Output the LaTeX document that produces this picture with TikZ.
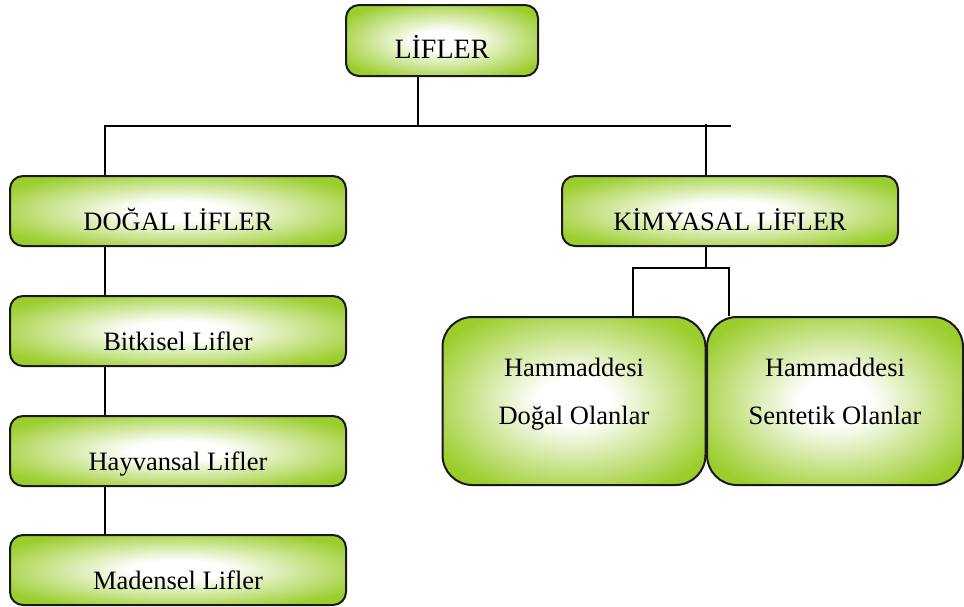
\documentclass[tikz,border=0pt]{standalone}
\usepackage{fontspec}
\setmainfont{Liberation Serif}
\usepackage{tikz}
\usetikzlibrary{calc,positioning}

\definecolor{leafgreen}{RGB}{155,205,45}
\pgfdeclareradialshading{leafglow}{\pgfpoint{0bp}{0bp}}{color(0bp)=(white); color(7bp)=(white); color(30bp)=(leafgreen); color(50bp)=(leafgreen)}

\begin{document}
\begin{tikzpicture}[x=1pt,y=-1pt,line width=1.6pt,
    box/.style={draw=black!90,line width=2pt,shading=leafglow,rounded corners=13pt,
      minimum width=336pt,minimum height=70pt,inner sep=0pt,
      font=\fontsize{26.5pt}{32pt}\selectfont,text height=38pt,text depth=0pt},
    bigbox/.style={box,rounded corners=30pt,minimum height=168pt,align=center,
      text height=47.6pt,text depth=0pt}]
    \useasboundingbox (0,0) rectangle (964,606);
    % boxes
    \node[box,minimum width=192pt,minimum height=71pt,font=\fontsize{28pt}{34pt}\selectfont,
          text height=35.6pt] (lifler) at (442,40.5) {LİFLER};
    \node[box] (dogal)  at (178,211) {DOĞAL LİFLER};
    \node[box] (kimya)  at (730,211) {KİMYASAL LİFLER};
    \node[box] (bitki)  at (178,331) {Bitkisel Lifler};
    \node[box] (hayvan) at (178,451) {Hayvansal Lifler};
    \node[box] (maden)  at (178,570) {Madensel Lifler};
    \node[bigbox,minimum width=263pt] (hdogal) at (574,401) {Hammaddesi\\[16pt]Doğal Olanlar};
    \node[bigbox,minimum width=256pt] (hsent)  at (835,401) {Hammaddesi\\[16pt]Sentetik Olanlar};
    % bus lines
    \coordinate (top)    at (418,126);
    \coordinate (dl)     at (105,126);
    \coordinate (busend) at (731,126);
    \coordinate (kl)     at (706,124);
    \coordinate (kb)     at (706,268);
    \coordinate (ha)     at (633,268);
    \coordinate (hb)     at (729,268);
    \draw (lifler.south -| top) -- (top);
    \draw (dl |- dogal.north) -- (dl) -- (busend);
    \draw (kl) -- (kl |- kimya.north);
    \draw (dl |- dogal.south) -- (dl |- bitki.north);
    \draw (dl |- bitki.south) -- (dl |- hayvan.north);
    \draw (dl |- hayvan.south) -- (dl |- maden.north);
    \draw (kl |- kimya.south) -- (kb);
    \draw (ha |- hdogal.north) -- (ha) -- (hb) -- (hb |- hsent.north);
\end{tikzpicture}
\end{document}
